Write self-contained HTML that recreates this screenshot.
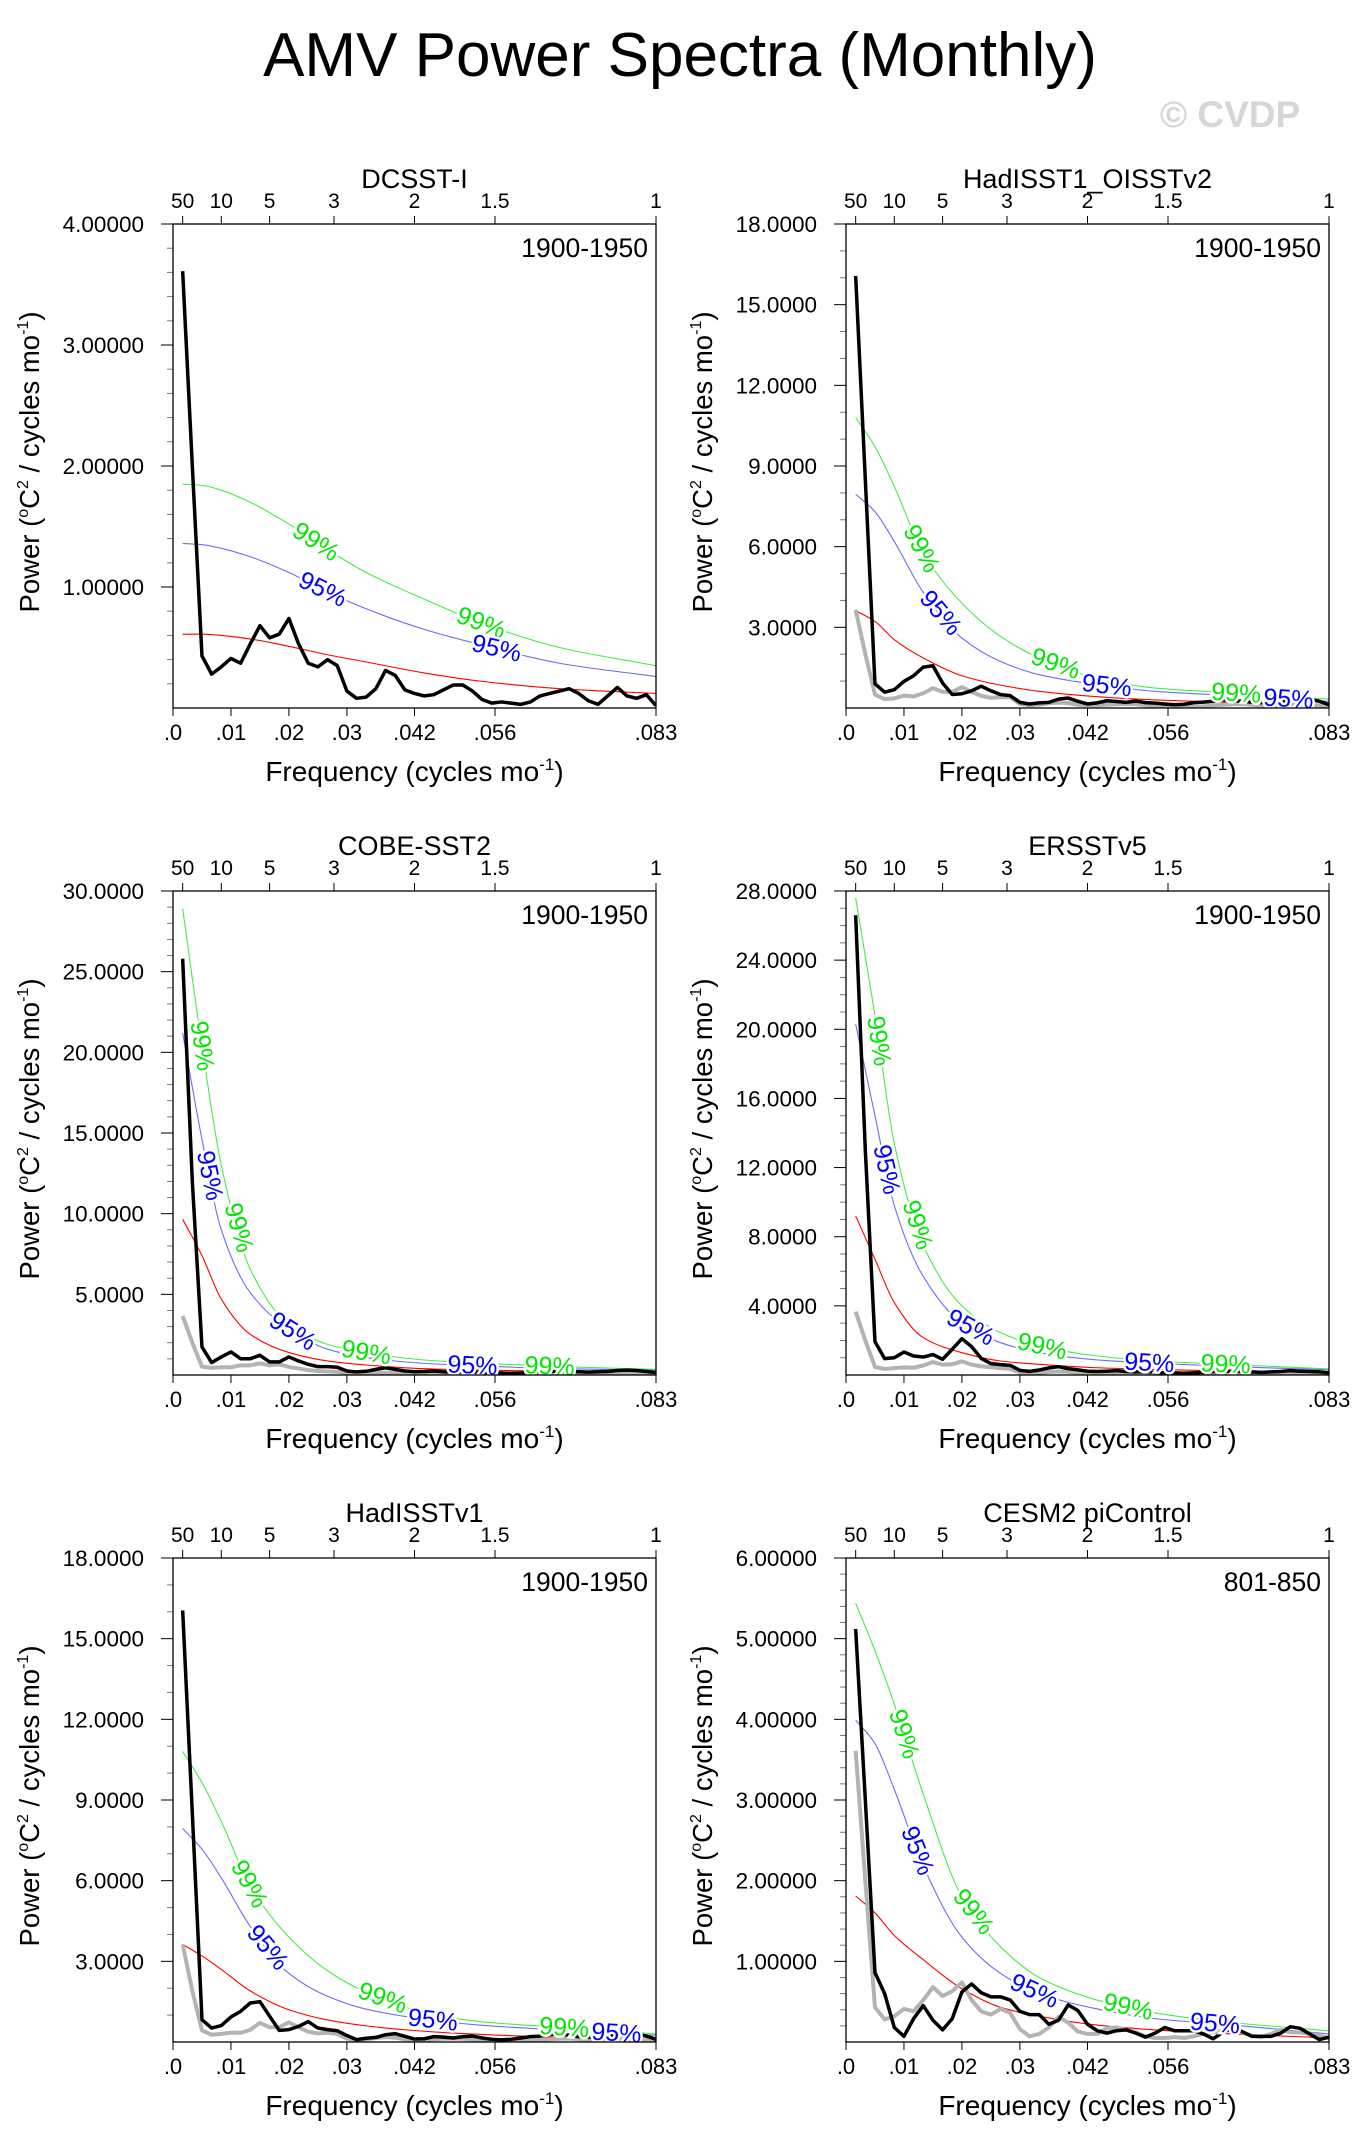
<!DOCTYPE html>
<html><head><meta charset="utf-8"><title>AMV Power Spectra (Monthly)</title>
<style>
html,body{margin:0;padding:0;background:#fff;}
svg{display:block;font-family:"Liberation Sans",Arial,sans-serif;}
</style></head>
<body>
<svg id="chart" width="1364" height="2151" viewBox="0 0 1364 2151" xmlns="http://www.w3.org/2000/svg">
<rect x="0" y="0" width="1364" height="2151" fill="#fff"/>
<text x="680" y="76" font-size="62" text-anchor="middle" fill="#000">AMV Power Spectra (Monthly)</text>
<text x="1230" y="127" font-size="37" font-weight="bold" text-anchor="middle" fill="#d6d6d6">© CVDP</text>
</svg>
<script>
// ---- shared axis data ----
const CURVE_K = [1,3,5,8,12,16,20,26,32,40,50];
const topPeriods = [50,10,5,3,2,1.5,1];
const topLabels = ["50","10","5","3","2","1.5","1"];
const bottomTickFreqs = [0,0.01,0.02,0.03,1/24,1/18,1/12];
const bottomLabels = [".0",".01",".02",".03",".042",".056",".083"];

// ---- panel 1: DCSST-I ----
const p1Black = [3.61,2.0,0.43,0.28,0.34,0.41,0.37,0.53,0.68,0.58,0.61,0.74,0.53,0.37,0.34,0.40,0.35,0.14,0.08,0.09,0.16,0.31,0.27,0.15,0.12,0.10,0.11,0.15,0.19,0.19,0.14,0.07,0.04,0.05,0.04,0.03,0.05,0.10,0.12,0.14,0.16,0.12,0.06,0.03,0.10,0.17,0.10,0.08,0.11,0.02];
const p1Gray = [];
const p1Red = [0.61,0.61,0.60,0.57,0.51,0.44,0.38,0.29,0.22,0.16,0.12];
const p1Green = [1.85,1.84,1.80,1.70,1.52,1.31,1.12,0.90,0.70,0.50,0.35];
const p1Blue = [1.36,1.35,1.32,1.25,1.12,0.96,0.82,0.65,0.52,0.37,0.26];
const p1GreenLabels = [14.8,31.9];
const p1BlueLabels = [15.5,33.5];

// ---- panel 2: HadISST1_OISSTv2 ----
const p2Black = [16.07,8.5,0.90,0.59,0.68,0.99,1.20,1.52,1.57,0.93,0.50,0.53,0.64,0.81,0.64,0.50,0.46,0.21,0.15,0.19,0.21,0.33,0.37,0.25,0.15,0.19,0.27,0.24,0.21,0.26,0.20,0.18,0.15,0.12,0.14,0.20,0.22,0.25,0.30,0.28,0.25,0.22,0.20,0.18,0.20,0.30,0.33,0.32,0.25,0.12];
const p2Gray = [3.65,2.0,0.50,0.33,0.36,0.46,0.43,0.55,0.74,0.60,0.60,0.78,0.60,0.45,0.38,0.40,0.40,0.15,0.10,0.12,0.18,0.20,0.18,0.12,0.10,0.10,0.12,0.14,0.15,0.14,0.10,0.08,0.06,0.06,0.05,0.05,0.06,0.10,0.12,0.14,0.15,0.12,0.08,0.06,0.10,0.15,0.12,0.10,0.10,0.05];
const p2Red = [3.62,3.22,2.54,1.86,1.20,0.85,0.62,0.42,0.30,0.20,0.12];
const p2Green = [10.8,9.72,8.24,5.76,3.90,2.66,1.86,1.11,0.74,0.56,0.33];
const p2Blue = [7.95,7.30,6.19,4.30,2.60,1.73,1.24,0.87,0.62,0.46,0.25];
const p2GreenLabels = [7.8,21.7,40.4];
const p2BlueLabels = [9.8,27,45.8];

// ---- panel 3: COBE-SST2 ----
const p3Black = [25.8,12.0,1.74,0.77,1.12,1.43,1.01,1.01,1.22,0.81,0.81,1.12,0.87,0.66,0.52,0.52,0.48,0.25,0.19,0.23,0.35,0.45,0.35,0.25,0.20,0.22,0.25,0.20,0.18,0.20,0.18,0.15,0.12,0.12,0.10,0.12,0.15,0.20,0.22,0.25,0.22,0.20,0.18,0.20,0.22,0.28,0.30,0.28,0.22,0.15];
const p3Gray = [3.66,2.0,0.52,0.44,0.48,0.48,0.60,0.60,0.72,0.60,0.66,0.50,0.40,0.30,0.25,0.22,0.20,0.12,0.10,0.10,0.12,0.15,0.12,0.10,0.08,0.08,0.10,0.10,0.10,0.10,0.08,0.06,0.05,0.05,0.05,0.05,0.05,0.07,0.08,0.10,0.10,0.08,0.06,0.05,0.07,0.10,0.08,0.07,0.07,0.04];
const p3Red = [9.65,7.4,4.7,2.52,1.39,0.87,0.62,0.39,0.30,0.22,0.15];
const p3Green = [28.9,20.4,13.0,6.55,3.14,1.90,1.39,0.93,0.72,0.52,0.35];
const p3Blue = [21.2,14.6,9.0,5.1,2.83,1.60,1.08,0.72,0.56,0.39,0.30];
const p3GreenLabels = [3.0,6.8,20,39];
const p3BlueLabels = [3.8,12.4,31];

// ---- panel 4: ERSSTv5 ----
const p4Black = [26.6,13.0,1.93,0.95,1.00,1.33,1.10,1.04,1.18,0.91,1.49,2.10,1.64,0.96,0.66,0.60,0.56,0.27,0.21,0.29,0.41,0.48,0.37,0.30,0.22,0.20,0.22,0.25,0.20,0.18,0.20,0.15,0.12,0.12,0.10,0.12,0.15,0.20,0.22,0.22,0.20,0.18,0.15,0.18,0.20,0.25,0.22,0.20,0.18,0.12];
const p4Gray = [3.67,2.0,0.46,0.35,0.40,0.44,0.42,0.55,0.75,0.60,0.62,0.79,0.60,0.50,0.45,0.40,0.35,0.15,0.10,0.12,0.18,0.20,0.18,0.12,0.10,0.10,0.12,0.14,0.15,0.14,0.10,0.08,0.06,0.06,0.05,0.05,0.06,0.10,0.12,0.14,0.15,0.12,0.08,0.06,0.10,0.15,0.12,0.10,0.10,0.05];
const p4Red = [9.2,6.7,4.19,2.16,1.29,0.81,0.62,0.42,0.32,0.22,0.15];
const p4Green = [27.6,20.8,13.4,7.5,4.0,2.45,1.68,1.10,0.81,0.60,0.35];
const p4Blue = [20.3,15.0,9.8,5.7,3.0,1.87,1.29,0.87,0.68,0.48,0.30];
const p4GreenLabels = [3.4,7.4,20.3,39.3];
const p4BlueLabels = [4.2,12.9,31.4];

// ---- panel 5: HadISSTv1 ----
const p5Black = [16.05,8.5,0.83,0.52,0.61,0.93,1.14,1.45,1.50,0.96,0.43,0.46,0.58,0.76,0.52,0.46,0.42,0.24,0.09,0.14,0.17,0.27,0.31,0.21,0.11,0.12,0.20,0.18,0.15,0.20,0.22,0.15,0.10,0.08,0.10,0.15,0.20,0.22,0.28,0.30,0.25,0.20,0.18,0.15,0.20,0.28,0.32,0.30,0.22,0.10];
const p5Gray = [3.63,1.9,0.43,0.27,0.30,0.35,0.34,0.45,0.71,0.55,0.55,0.73,0.55,0.38,0.32,0.35,0.30,0.12,0.08,0.10,0.15,0.18,0.16,0.10,0.08,0.08,0.10,0.12,0.13,0.12,0.09,0.07,0.05,0.05,0.04,0.04,0.05,0.08,0.10,0.12,0.13,0.10,0.07,0.05,0.08,0.12,0.10,0.08,0.08,0.04];
const p5Red = [3.63,3.2,2.7,1.9,1.2,0.82,0.60,0.40,0.28,0.18,0.12];
const p5Green = [10.8,9.65,8.2,5.8,3.9,2.65,1.85,1.10,0.75,0.55,0.30];
const p5Blue = [7.94,7.17,6.1,4.3,2.55,1.70,1.22,0.85,0.62,0.45,0.25];
const p5GreenLabels = [7.9,21.7,40.5];
const p5BlueLabels = [9.8,26.9,45.9];

// ---- panel 6: CESM2 piControl ----
const p6Black = [5.12,3.0,0.86,0.60,0.18,0.07,0.29,0.45,0.27,0.15,0.29,0.62,0.72,0.61,0.56,0.56,0.52,0.38,0.34,0.34,0.22,0.27,0.46,0.39,0.22,0.14,0.11,0.14,0.15,0.11,0.06,0.11,0.18,0.14,0.14,0.14,0.10,0.04,0.12,0.17,0.13,0.07,0.07,0.07,0.11,0.19,0.17,0.10,0.03,0.06];
const p6Gray = [3.61,2.0,0.43,0.28,0.32,0.41,0.38,0.52,0.68,0.57,0.63,0.74,0.52,0.38,0.34,0.41,0.36,0.16,0.07,0.10,0.18,0.31,0.24,0.13,0.10,0.10,0.17,0.18,0.15,0.12,0.07,0.05,0.05,0.06,0.05,0.07,0.10,0.12,0.14,0.15,0.12,0.08,0.06,0.10,0.15,0.12,0.12,0.10,0.08,0.05];
const p6Red = [1.81,1.60,1.32,1.02,0.66,0.43,0.32,0.21,0.15,0.10,0.05];
const p6Green = [5.44,4.85,4.19,3.07,1.80,1.18,0.80,0.52,0.36,0.24,0.14];
const p6Blue = [3.99,3.70,3.13,2.18,1.30,0.85,0.60,0.41,0.29,0.21,0.10];
const p6GreenLabels = [6.0,13.2,29.2];
const p6BlueLabels = [7.4,19.5,38.2];

const panelTitles = ["DCSST-I","HadISST1_OISSTv2","COBE-SST2","ERSSTv5","HadISSTv1","CESM2 piControl"];
const panelPeriods = ["1900-1950","1900-1950","1900-1950","1900-1950","1900-1950","801-850"];
const panelYMax = [4,18,30,28,18,6];
const panelYMajor = [1,3,5,4,3,1];
const panelYMinor = [0.2,1,1,1,1,0.2];
const panelDecimals = [5,4,4,4,4,5];

const svg = document.getElementById('chart');
const NS = 'http://www.w3.org/2000/svg';
const BOX_W = 483, BOX_H = 484;
const COL_X = [173, 846];
const ROW_Y = [224, 891, 1558];
const XMAX = 1/12;

function mk(tag, attrs, parent) {
  const el = document.createElementNS(NS, tag);
  for (const key in attrs) el.setAttribute(key, attrs[key]);
  (parent || svg).appendChild(el);
  return el;
}

// monotone cubic (Fritsch-Carlson) path through points
function monotone(pts) {
  const n = pts.length;
  const dx = [], dy = [], m = [];
  for (let i = 0; i < n - 1; i++) { dx.push(pts[i+1][0]-pts[i][0]); dy.push(pts[i+1][1]-pts[i][1]); m.push(dy[i]/dx[i]); }
  const t = [m[0]];
  for (let i = 1; i < n - 1; i++) t.push(m[i-1]*m[i] <= 0 ? 0 : (dx[i-1]+dx[i]) * 3 / ((2*dx[i]+dx[i-1])/m[i-1] + (dx[i]+2*dx[i-1])/m[i]));
  t.push(m[n-2]);
  let d = 'M' + pts[0][0].toFixed(2) + ',' + pts[0][1].toFixed(2);
  for (let i = 0; i < n - 1; i++) {
    const h = dx[i] / 3;
    d += ' C' + (pts[i][0]+h).toFixed(2) + ',' + (pts[i][1]+h*t[i]).toFixed(2) + ' ' + (pts[i+1][0]-h).toFixed(2) + ',' + (pts[i+1][1]-h*t[i+1]).toFixed(2) + ' ' + pts[i+1][0].toFixed(2) + ',' + pts[i+1][1].toFixed(2);
  }
  return d;
}

function interpCurve(vals, k) {
  for (let i = 0; i < CURVE_K.length - 1; i++) {
    if (k >= CURVE_K[i] && k <= CURVE_K[i + 1]) {
      const t = (k - CURVE_K[i]) / (CURVE_K[i + 1] - CURVE_K[i]);
      return vals[i] + t * (vals[i + 1] - vals[i]);
    }
  }
  return vals[vals.length - 1];
}

function drawPanel(idx, black, gray, red, green, blue, gLabels, bLabels) {
  const x0 = COL_X[idx % 2], y0 = ROW_Y[Math.floor(idx / 2)];
  const ymax = panelYMax[idx];
  const sx = f => x0 + f / XMAX * BOX_W;
  const sy = v => y0 + BOX_H - v / ymax * BOX_H;
  const g = mk('g', {});
  
  

  const clipId = 'clip' + idx;
  const cp = mk('clipPath', {id: clipId}, g);
  mk('rect', {x: x0, y: y0, width: BOX_W, height: BOX_H}, cp);

  const t = mk('text', {x: x0 + BOX_W / 2, y: y0 - 36, 'font-size': 27, 'text-anchor': 'middle'}, g);
  t.textContent = panelTitles[idx];
  
  

  for (let i = 0; i < topPeriods.length; i++) {
    const xx = sx(1 / (12 * topPeriods[i]));
    const tk = mk('line', {x1: xx, x2: xx, y1: y0, y2: y0 - 8, stroke: '#000', 'stroke-width': 1}, g);
    
    
    const tl = mk('text', {x: xx, y: y0 - 16, 'font-size': 21, 'text-anchor': 'middle'}, g);
    tl.textContent = topLabels[i];
    
    
  }
  for (let i = 0; i < bottomTickFreqs.length; i++) {
    const xx = sx(bottomTickFreqs[i]);
    const tk = mk('line', {x1: xx, x2: xx, y1: y0 + BOX_H, y2: y0 + BOX_H + 8, stroke: '#000', 'stroke-width': 1}, g);
    
    
    const tl = mk('text', {x: xx, y: y0 + BOX_H + 32, 'font-size': 22, 'text-anchor': 'middle'}, g);
    tl.textContent = bottomLabels[i];
    
    
  }
  const nMinor = Math.round(ymax / panelYMinor[idx]);
  const per = Math.round(panelYMajor[idx] / panelYMinor[idx]);
  for (let i = 1; i <= nMinor; i++) {
    const v = i * panelYMinor[idx];
    const yy = sy(v);
    const major = (i % per === 0);
    const tk = mk('line', {x1: x0, x2: x0 - (major ? 12 : 6), y1: yy, y2: yy, stroke: major ? '#000' : '#777', 'stroke-width': 1}, g);
    
    
    if (major) {
      const tl = mk('text', {x: x0 - 29, y: yy + 8, 'font-size': 22.5, 'text-anchor': 'end'}, g);
      tl.textContent = v.toFixed(panelDecimals[idx]);
      
      
    }
  }
  const xt = mk('text', {x: x0 + BOX_W / 2, y: y0 + BOX_H + 73, 'font-size': 28, 'text-anchor': 'middle'}, g);
  xt.innerHTML = 'Frequency (cycles mo<tspan dy="-11" font-size="17">-1</tspan><tspan dy="11">)</tspan>';
  
  
  const cx = x0 - 134, cy = y0 + BOX_H / 2 - 4;
  const yt = mk('text', {x: cx, y: cy, 'font-size': 27.5, 'text-anchor': 'middle', transform: 'rotate(-90 ' + cx + ' ' + cy + ')'}, g);
  yt.innerHTML = 'Power (<tspan dy="-11" font-size="16">o</tspan><tspan dy="11">C</tspan><tspan dy="-11" font-size="16">2</tspan><tspan dy="11"> / cycles mo</tspan><tspan dy="-11" font-size="16">-1</tspan><tspan dy="11">)</tspan>';
  
  

  const plot = mk('g', {'clip-path': 'url(#' + clipId + ')'}, g);
  
  

  const curveDefs = [[red, '#ff0000', 'red-noise-curve'], [blue, '#6b6bff', 'confidence-95-curve'], [green, '#44ee44', 'confidence-99-curve']];
  for (const [vals, col, nm] of curveDefs) {
    const pts = CURVE_K.map((k, i) => [sx(k / 600), sy(vals[i])]);
    const p = mk('path', {d: monotone(pts), fill: 'none', stroke: col, 'stroke-width': 1.1}, plot);
    
    
  }
  if (gray.length) {
    const d = gray.map((v, i) => (i ? 'L' : 'M') + sx((i + 1) / 600).toFixed(2) + ',' + sy(v).toFixed(2)).join(' ');
    const p = mk('path', {d: d, fill: 'none', stroke: '#b3b3b3', 'stroke-width': 4, 'stroke-linejoin': 'round'}, plot);
    
    
  }
  {
    const d = black.map((v, i) => (i ? 'L' : 'M') + sx((i + 1) / 600).toFixed(2) + ',' + sy(v).toFixed(2)).join(' ');
    const p = mk('path', {d: d, fill: 'none', stroke: '#000', 'stroke-width': 3.5, 'stroke-linejoin': 'round'}, plot);
    
    
  }
  const labelDefs = [[green, gLabels, '99%', '#00e600', 'label-99-percent'], [blue, bLabels, '95%', '#0000ff', 'label-95-percent']];
  for (const [vals, ks, txt, col, nm] of labelDefs) {
    for (const k of ks) {
      const px = sx(k / 600), py = sy(interpCurve(vals, k));
      const ax = sx((k - 1) / 600), ay = sy(interpCurve(vals, Math.max(1, k - 1)));
      const bx = sx((k + 1) / 600), by = sy(interpCurve(vals, Math.min(50, k + 1)));
      const ang = Math.atan2(by - ay, bx - ax) * 180 / Math.PI;
      const tl = mk('text', {x: px, y: py + 8, 'font-size': 25, 'text-anchor': 'middle', fill: col, stroke: '#fff', 'stroke-width': 5, 'paint-order': 'stroke', transform: 'rotate(' + ang.toFixed(1) + ' ' + px.toFixed(1) + ' ' + py.toFixed(1) + ')'}, plot);
      tl.textContent = txt;
      
      
    }
  }
  const fr = mk('rect', {x: x0, y: y0, width: BOX_W, height: BOX_H, fill: 'none', stroke: '#000', 'stroke-width': 1.3}, g);
  
  
  const pl = mk('text', {x: x0 + BOX_W - 8, y: y0 + 33, 'font-size': 26.5, 'text-anchor': 'end'}, g);
  pl.textContent = panelPeriods[idx];
  
  
}

drawPanel(0, p1Black, p1Gray, p1Red, p1Green, p1Blue, p1GreenLabels, p1BlueLabels);
drawPanel(1, p2Black, p2Gray, p2Red, p2Green, p2Blue, p2GreenLabels, p2BlueLabels);
drawPanel(2, p3Black, p3Gray, p3Red, p3Green, p3Blue, p3GreenLabels, p3BlueLabels);
drawPanel(3, p4Black, p4Gray, p4Red, p4Green, p4Blue, p4GreenLabels, p4BlueLabels);
drawPanel(4, p5Black, p5Gray, p5Red, p5Green, p5Blue, p5GreenLabels, p5BlueLabels);
drawPanel(5, p6Black, p6Gray, p6Red, p6Green, p6Blue, p6GreenLabels, p6BlueLabels);
</script>
</body></html>
